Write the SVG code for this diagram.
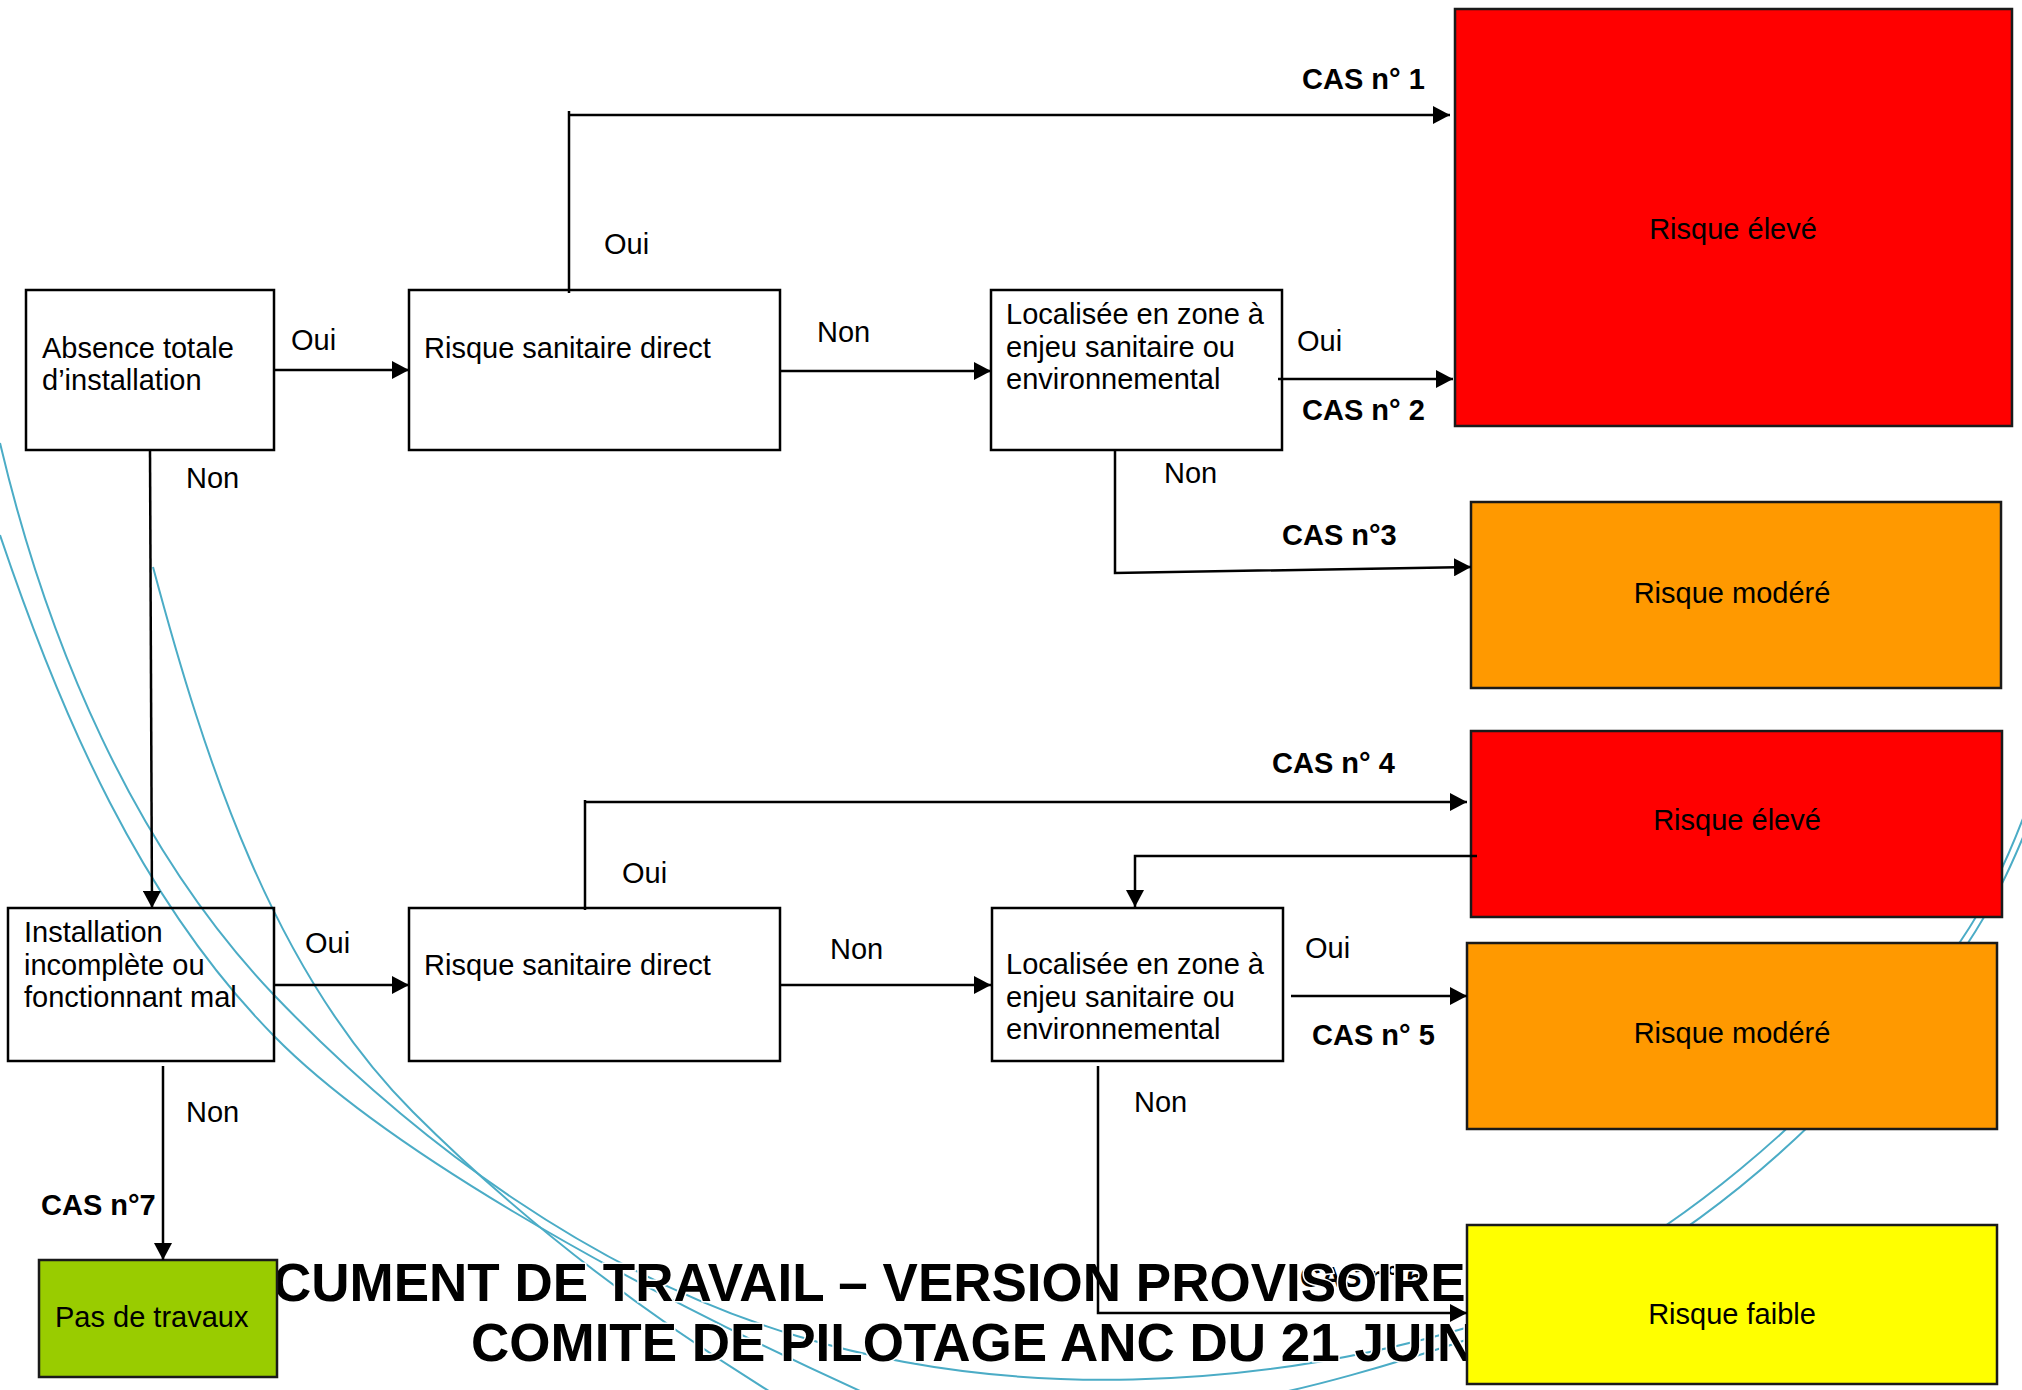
<svg xmlns="http://www.w3.org/2000/svg" width="2022" height="1390" viewBox="0 0 2022 1390">
<style>
.t{font-family:"Liberation Sans",Arial,sans-serif;font-size:29px;fill:#000}
.b{font-weight:bold}
.m{text-anchor:middle}
.ttl{font-family:"Liberation Sans",Arial,sans-serif;font-size:53px;font-weight:bold;fill:#000;stroke:#fff;stroke-width:3;paint-order:stroke}
.box{fill:none;stroke:#000;stroke-width:2.5}
.cbox{stroke:#1a1a1a;stroke-width:2.5}
.arc{fill:none;stroke:#4BACC6;stroke-width:2}
.c{fill:none;stroke:#000;stroke-width:2.5}
.ca{fill:none;stroke:#000;stroke-width:2.5;marker-end:url(#ah)}
</style>
<defs>
<marker id="ah" markerUnits="userSpaceOnUse" markerWidth="17" markerHeight="18" refX="17" refY="9" orient="auto">
<path d="M0,0 L17,9 L0,18 z" fill="#000"/>
</marker>
</defs>
<rect width="2022" height="1390" fill="#fff"/>
<g id="decor">
<path class="arc" d="M0,535 C61,716 141,901 274,1036 C379,1143 607,1277 880,1400 M1240,1400 C1300,1392 1400,1362 1469,1339 C1680,1268 1843,1112 1966,946 C1990,910 2010,872 2036,805"/>
<path class="arc" d="M0,443 C47,642 133,847 274,995 C418,1145 597,1276 797,1336 C1012,1401 1254,1390 1469,1327 C1669,1257 1829,1104 1960,942 C1985,905 2005,868 2030,800"/>
<path class="arc" d="M153,567 C205,761 273,972 413,1112 C518,1217 650,1320 800,1410"/>
</g>
<text class="t b" x="1300" y="1287">CAS n° 6</text>
<g id="title">
<text class="ttl" x="273" y="1301">CUMENT DE TRAVAIL – VERSION PROVISOIRE</text>
<text class="ttl" x="471" y="1361">COMITE DE PILOTAGE ANC DU 21 JUIN</text>
</g>
<g id="n1"><rect class="box" x="26" y="290" width="248" height="160"/>
<text class="t" x="42" y="358">Absence totale</text><text class="t" x="42" y="390">d’installation</text></g>
<g id="n2"><rect class="box" x="409" y="290" width="371" height="160"/>
<text class="t" x="424" y="358">Risque sanitaire direct</text></g>
<g id="n3"><rect class="box" x="991" y="290" width="291" height="160"/>
<text class="t" x="1006" y="324">Localisée en zone à</text><text class="t" x="1006" y="357">enjeu sanitaire ou</text><text class="t" x="1006" y="389">environnemental</text></g>
<g id="n4"><rect class="box" x="8" y="908" width="266" height="153"/>
<text class="t" x="24" y="942">Installation</text><text class="t" x="24" y="975">incomplète ou</text><text class="t" x="24" y="1007">fonctionnant mal</text></g>
<g id="n5"><rect class="box" x="409" y="908" width="371" height="153"/>
<text class="t" x="424" y="975">Risque sanitaire direct</text></g>
<g id="n6"><rect class="box" x="992" y="908" width="291" height="153"/>
<text class="t" x="1006" y="974">Localisée en zone à</text><text class="t" x="1006" y="1007">enjeu sanitaire ou</text><text class="t" x="1006" y="1039">environnemental</text></g>
<g id="r1"><rect class="cbox" x="1455" y="9" width="557" height="417" fill="#FF0000"/>
<text class="t m" x="1733" y="239">Risque élevé</text></g>
<g id="r2"><rect class="cbox" x="1471" y="502" width="530" height="186" fill="#FF9900"/>
<text class="t m" x="1732" y="603">Risque modéré</text></g>
<g id="r3"><rect class="cbox" x="1471" y="731" width="531" height="186" fill="#FF0000"/>
<text class="t m" x="1737" y="830">Risque élevé</text></g>
<g id="r4"><rect class="cbox" x="1467" y="943" width="530" height="186" fill="#FF9900"/>
<text class="t m" x="1732" y="1043">Risque modéré</text></g>
<g id="r5"><rect class="cbox" x="1467" y="1225" width="530" height="159" fill="#FFFF00"/>
<text class="t m" x="1732" y="1324">Risque faible</text></g>
<g id="r6"><rect class="cbox" x="39" y="1260" width="238" height="117" fill="#99CC00"/>
<text class="t" x="55" y="1327">Pas de travaux</text></g>
<g id="connectors">
<path class="ca" d="M274,370 H409"/>
<path class="ca" d="M780,371 H991"/>
<path class="ca" d="M1278,379 H1453"/>
<path class="c" d="M569,293 V111"/>
<path class="ca" d="M569,115 H1450"/>
<path class="ca" d="M1115,450 V573 L1471,567"/>
<path class="ca" d="M150,450 L152,908"/>
<path class="ca" d="M274,985 H409"/>
<path class="ca" d="M780,985 H991"/>
<path class="c" d="M585,910 V800"/>
<path class="ca" d="M585,802 H1467"/>
<path class="ca" d="M1477,856 H1135 V907"/>
<path class="ca" d="M1291,996 H1467"/>
<path class="ca" d="M1098,1066 V1313 H1467"/>
<path class="ca" d="M163,1066 V1260"/>
</g>
<g id="labels">
<text class="t" x="291" y="350">Oui</text>
<text class="t" x="604" y="254">Oui</text>
<text class="t" x="817" y="342">Non</text>
<text class="t" x="186" y="488">Non</text>
<text class="t" x="1297" y="351">Oui</text>
<text class="t" x="1164" y="483">Non</text>
<text class="t b" x="1302" y="89">CAS n° 1</text>
<text class="t b" x="1302" y="420">CAS n° 2</text>
<text class="t b" x="1282" y="545">CAS n°3</text>
<text class="t b" x="1272" y="773">CAS n° 4</text>
<text class="t" x="305" y="953">Oui</text>
<text class="t" x="622" y="883">Oui</text>
<text class="t" x="830" y="959">Non</text>
<text class="t" x="1305" y="958">Oui</text>
<text class="t b" x="1312" y="1045">CAS n° 5</text>
<text class="t" x="1134" y="1112">Non</text>
<text class="t" x="186" y="1122">Non</text>
<text class="t b" x="41" y="1215">CAS n°7</text>
</g>
</svg>
